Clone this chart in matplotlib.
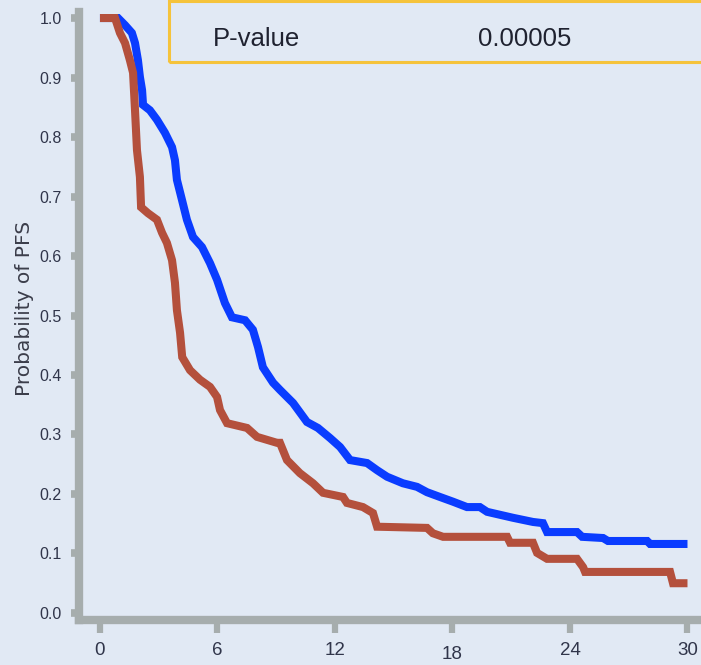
import matplotlib

matplotlib.use("Agg")
import matplotlib.pyplot as plt  # noqa: E402
from matplotlib.patches import Rectangle  # noqa: E402
from matplotlib.transforms import ScaledTranslation  # noqa: E402

# PFS curves (months, probability), corner points of the path
blue_t = [0, 0.92, 1.28, 1.63, 1.79, 1.94, 2.04, 2.15, 2.2, 2.55, 2.91, 3.32, 3.68,
          3.83, 3.93, 4.19, 4.44, 4.75, 5.21, 5.62, 5.98, 6.38, 6.74, 7.41, 7.81,
          8.07, 8.32, 8.84, 9.19, 9.86, 10.57, 11.13, 11.75, 12.26, 12.77, 13.64,
          14.15, 14.66, 15.47, 16.19, 16.7, 17.36, 18.03, 18.74, 19.4, 19.77, 20.43,
          21.09, 22.11, 22.62, 22.83, 24.36, 24.62, 25.69, 25.94, 27.94, 28.09, 30.0]
blue_s = [1.0, 1.0, 0.988, 0.975, 0.958, 0.929, 0.901, 0.879, 0.854, 0.845, 0.829,
          0.807, 0.783, 0.761, 0.728, 0.694, 0.661, 0.632, 0.615, 0.588, 0.560,
          0.521, 0.497, 0.492, 0.476, 0.447, 0.413, 0.387, 0.375, 0.353, 0.321,
          0.311, 0.294, 0.279, 0.257, 0.252, 0.240, 0.229, 0.218, 0.212, 0.203,
          0.195, 0.187, 0.178, 0.178, 0.170, 0.165, 0.160, 0.153, 0.151, 0.136,
          0.136, 0.128, 0.126, 0.121, 0.121, 0.116, 0.116]

red_t = [0, 0.77, 1.02, 1.28, 1.53, 1.69, 1.79, 1.89, 2.04, 2.1, 2.45, 2.91, 3.17,
         3.42, 3.68, 3.83, 3.93, 4.09, 4.2, 4.6, 5.11, 5.62, 5.98, 6.13, 6.49, 7.51,
         8.02, 9.04, 9.19, 9.55, 10.21, 10.88, 11.39, 12.41, 12.61, 13.43, 13.94,
         14.15, 16.7, 17.0, 17.52, 20.79, 20.94, 22.11, 22.32, 22.83, 24.36, 24.67,
         24.77, 29.11, 29.26, 30.0]
red_s = [1.0, 1.0, 0.975, 0.958, 0.929, 0.908, 0.845, 0.778, 0.733, 0.682, 0.672,
         0.661, 0.639, 0.622, 0.593, 0.555, 0.509, 0.471, 0.430, 0.408, 0.392,
         0.380, 0.363, 0.341, 0.319, 0.311, 0.296, 0.286, 0.286, 0.257, 0.235,
         0.218, 0.202, 0.195, 0.185, 0.178, 0.168, 0.145, 0.143, 0.134, 0.128,
         0.128, 0.118, 0.118, 0.101, 0.091, 0.091, 0.077, 0.069, 0.069, 0.050,
         0.050]

x_ticks = [0, 6, 12, 18, 24, 30]
y_ticks = [0.0, 0.1, 0.2, 0.3, 0.4, 0.5, 0.6, 0.7, 0.8, 0.9, 1.0]
p_label = "P-value"
p_value = "0.00005"

BG = "#e1e9f4"
GRAY = "#a6adad"
TXT = "#30354a"
FONT = "Liberation Sans"

fig = plt.figure(figsize=(7.01, 6.65), dpi=100)
fig.patch.set_facecolor(BG)
ax = fig.add_axes([79 / 701, 45 / 665, 622 / 701, 620 / 665])
ax.set_facecolor(BG)

ax.plot(blue_t, blue_s, color="#0a3cff", lw=5.8,
        solid_capstyle="butt", solid_joinstyle="miter", zorder=3)
ax.plot(red_t, red_s, color="#b4503c", lw=5.8,
        solid_capstyle="butt", solid_joinstyle="miter", zorder=4)

ax.set_xlim(-1.07, 30.69)
ax.set_ylim(-0.0118, 1.0303)

for side in ("top", "right"):
    ax.spines[side].set_visible(False)
for side in ("left", "bottom"):
    ax.spines[side].set_color(GRAY)
    ax.spines[side].set_linewidth(6)
    ax.spines[side].set_capstyle("projecting")
ax.spines["left"].set_bounds(-0.0118, 1.01)

ax.set_xticks(x_ticks)
ax.set_xticklabels([str(v) for v in x_ticks])
ax.set_yticks(y_ticks)
ax.set_yticklabels([f"{v:.1f}" for v in y_ticks])
ax.tick_params(axis="x", direction="out", length=9, width=4.5, color=GRAY,
               pad=6.5, labelsize=13.5, labelcolor=TXT)
ax.tick_params(axis="y", direction="out", length=5.8, width=5.5, color=GRAY,
               pad=6.5, labelsize=11.5, labelcolor=TXT)
for lab in ax.get_xticklabels() + ax.get_yticklabels():
    lab.set_fontfamily(FONT)

# the "18" label sits a little lower in the reference
lab18 = ax.get_xticklabels()[3]
lab18.set_transform(lab18.get_transform() + ScaledTranslation(0, -0.04, fig.dpi_scale_trans))

ax.set_ylabel("Probability of PFS", fontsize=14.5, color="#3b3d4a",
              fontfamily="DejaVu Sans")
ax.yaxis.set_label_coords(-0.072, 0.503)

# P-value box running off the right edge
box = Rectangle((169 / 701, 1 - 62 / 665), 0.9, 60.5 / 665, transform=fig.transFigure,
                fill=False, edgecolor="#f5c33b", lw=2.2, clip_on=False)
fig.patches.append(box)
fig.text(213 / 701, (665 - 45.5) / 665, p_label, fontsize=18.5, color="#1f2230",
         fontfamily=FONT, va="baseline")
fig.text(478 / 701, (665 - 45.5) / 665, p_value, fontsize=18.5, color="#1f2230",
         fontfamily=FONT, va="baseline")

fig.savefig("out.png", dpi=100, facecolor=BG)
plt.close(fig)
